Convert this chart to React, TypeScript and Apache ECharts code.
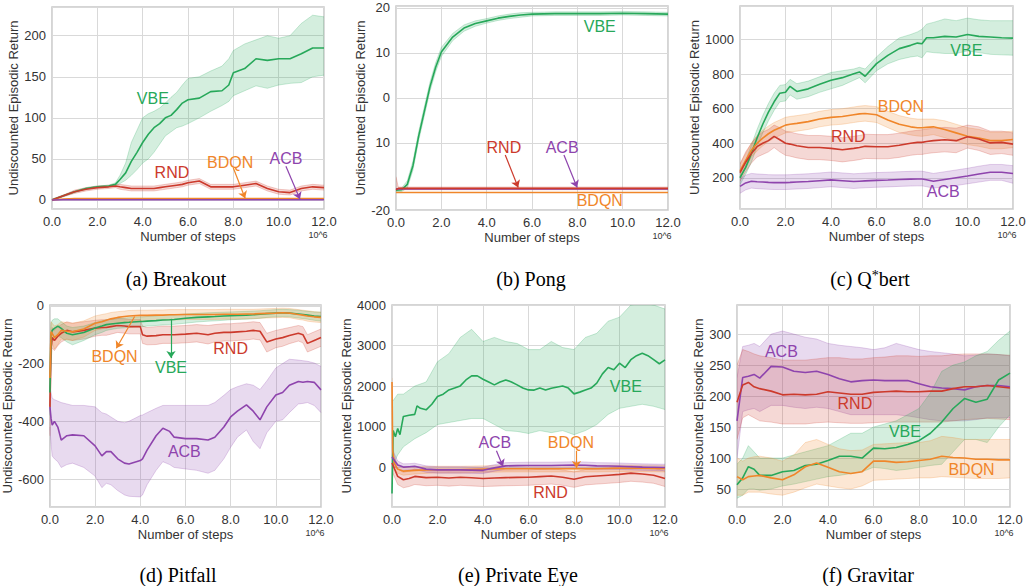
import React, { useEffect, useRef } from "react";
import * as echarts from "echarts";

type Algo = "VBE" | "RND" | "BDQN" | "ACB";
const COLORS: Record<Algo, string> = { VBE: "#27a85a", RND: "#cc3a2c", BDQN: "#f0862a", ACB: "#8e44ad" };
const FONT = '"Liberation Sans", Arial, sans-serif';
const SERIF = '"Liberation Serif", "Times New Roman", serif';

const X27 = [0, 0.25, 0.5, 0.75, 1, 1.5, 2, 2.5, 3, 3.5, 4, 4.5, 5, 5.5, 6, 6.5, 7, 7.5, 8, 8.5, 9, 9.5, 10, 10.5, 11, 11.5, 12];
const xTicks = [0, 2, 4, 6, 8, 10, 12];

// (a) Breakout
const boX = [0, 0.5, 1, 1.5, 2, 2.5, 2.8, 3, 3.25, 3.5, 3.75, 4, 4.25, 4.5, 4.75, 5, 5.25, 5.5, 5.75, 6, 6.5, 7, 7.5, 7.8, 8, 8.5, 9, 9.5, 10, 10.5, 11, 11.5, 12];
const boVbe = [0, 5, 10, 14, 16, 17, 19, 25, 33, 47, 58, 70, 80, 88, 93, 100, 103, 110, 118, 122, 124, 132, 133, 140, 155, 160, 172, 170, 172, 172, 178, 185, 185];
const boVbeHi = [1, 6, 11, 15, 17, 18, 21, 30, 45, 70, 85, 100, 105, 108, 112, 118, 125, 131, 140, 148, 150, 157, 163, 172, 182, 190, 195, 200, 197, 200, 215, 225, 223];
const boVbeLo = [-1, 4, 9, 13, 15, 16, 17, 20, 24, 30, 37, 45, 50, 58, 68, 78, 83, 88, 90, 93, 100, 108, 115, 120, 127, 133, 139, 136, 140, 142, 143, 150, 152];
const boRnd = [0, 5, 10, 13, 15, 16, 17, 16, 15, 14, 14, 14, 14, 14, 15, 16, 17, 18, 19, 21, 23, 16, 16, 16, 16, 18, 20, 14, 10, 9, 14, 16, 15];
const boRndHi = [1, 6, 12, 15, 17, 18, 19, 19, 18, 17, 17, 17, 17, 17, 18, 19, 20, 21, 22, 24, 26, 19, 19, 19, 19, 21, 23, 17, 13, 12, 17, 19, 18];
const boRndLo = [-1, 4, 8, 11, 13, 14, 15, 13, 12, 11, 11, 11, 11, 11, 12, 13, 14, 15, 16, 18, 20, 13, 13, 13, 13, 15, 17, 11, 7, 6, 11, 13, 12];
const boFlatX = [0, 0.5, 1, 12];
const boBdqn = [0, 1.2, 1.6, 1.6];
const boAcb = [0, 0.2, 0.3, 0.3];

// (b) Pong
const pgX = [0, 0.25, 0.5, 0.75, 1, 1.25, 1.5, 1.75, 2, 2.5, 3, 3.5, 4, 4.5, 5, 5.5, 6, 7, 8, 9, 10, 11, 12];
const pgVbe = [-20.5, -20.4, -19.2, -15, -8.5, -3, 2.5, 6.8, 10.2, 13.5, 15.5, 16.5, 17.1, 17.7, 18.1, 18.4, 18.6, 18.7, 18.7, 18.7, 18.8, 18.7, 18.6];
const pgVbeHi = [-20.2, -20.0, -18.4, -14, -7.5, -2, 3.5, 7.8, 11.2, 14.3, 16.2, 17.1, 17.6, 18.2, 18.6, 18.9, 19.0, 19.1, 19.1, 19.1, 19.2, 19.1, 19.0];
const pgVbeLo = [-20.8, -20.8, -20.0, -16, -9.5, -4, 1.5, 5.8, 9.2, 12.7, 14.8, 15.9, 16.6, 17.2, 17.6, 17.9, 18.2, 18.3, 18.3, 18.3, 18.4, 18.3, 18.2];
const pgFlatX = [0, 0.1, 12];
const pgRnd = [-20.4, -20.1, -20.1];
const pgRndHi = [-17.5, -19.8, -19.8];
const pgRndLo = [-20.6, -20.4, -20.4];
const pgAcb = [-20.2, -20.2, -20.2];
const pgBdqn = [-21.0, -21.0, -21.0];

// (c) Q*bert
const qbX = [0, 0.25, 0.5, 0.75, 1, 1.25, 1.5, 1.75, 2, 2.2, 2.5, 3, 3.5, 4, 4.5, 5, 5.25, 5.5, 6, 6.5, 7, 7.5, 7.8, 8, 8.2, 8.5, 9, 9.5, 10, 10.5, 11, 11.5, 12];
const qbVbe = [200, 260, 340, 430, 510, 580, 640, 690, 695, 730, 700, 715, 741, 765, 780, 803, 813, 788, 861, 909, 948, 967, 980, 976, 1011, 1011, 1019, 1015, 1030, 1019, 1015, 1011, 1009];
const qbVbeHi = [240, 300, 390, 480, 560, 630, 690, 735, 740, 770, 745, 760, 785, 810, 820, 830, 840, 830, 900, 960, 1010, 1030, 1045, 1060, 1090, 1100, 1120, 1110, 1125, 1115, 1110, 1110, 1110];
const qbVbeLo = [160, 220, 290, 380, 460, 530, 590, 640, 645, 680, 655, 670, 695, 715, 735, 765, 780, 750, 820, 860, 885, 900, 905, 895, 930, 925, 920, 920, 935, 925, 915, 912, 910];
const qbBdqn = [240, 300, 360, 400, 430, 455, 475, 490, 505, 510, 515, 525, 540, 550, 555, 565, 570, 572, 565, 535, 510, 495, 490, 490, 492, 495, 480, 460, 440, 430, 415, 415, 422];
const qbBdqnHi = [280, 340, 400, 445, 475, 500, 520, 535, 550, 555, 560, 570, 585, 595, 600, 610, 615, 618, 612, 585, 560, 545, 540, 540, 540, 540, 530, 510, 490, 480, 465, 465, 470];
const qbBdqnLo = [200, 260, 320, 355, 385, 410, 430, 445, 460, 465, 470, 480, 495, 505, 510, 520, 525, 528, 520, 490, 462, 448, 442, 440, 444, 450, 432, 412, 392, 382, 368, 368, 375];
const qbRnd = [230, 290, 340, 380, 400, 415, 440, 420, 400, 395, 385, 375, 375, 370, 362, 370, 375, 382, 380, 380, 388, 400, 405, 405, 410, 415, 420, 415, 438, 425, 402, 405, 395];
const qbRndHi = [280, 350, 400, 440, 465, 480, 505, 490, 470, 465, 455, 445, 445, 440, 432, 440, 445, 452, 450, 450, 458, 470, 475, 478, 482, 487, 492, 487, 505, 495, 470, 470, 460];
const qbRndLo = [180, 235, 285, 320, 335, 350, 375, 350, 330, 325, 315, 305, 305, 300, 292, 300, 305, 312, 310, 310, 318, 330, 335, 335, 340, 345, 350, 345, 372, 358, 335, 340, 330];
const qbAcb = [150, 170, 180, 177, 175, 173, 172, 172, 172, 173, 175, 178, 183, 188, 183, 178, 180, 182, 185, 187, 190, 192, 193, 193, 188, 180, 190, 200, 210, 222, 232, 232, 225];
const qbAcbHi = [195, 215, 225, 222, 220, 218, 217, 217, 217, 218, 220, 223, 228, 233, 228, 223, 225, 227, 230, 232, 235, 237, 238, 238, 233, 225, 235, 245, 255, 267, 277, 277, 270];
const qbAcbLo = [110, 130, 140, 137, 135, 133, 132, 132, 132, 133, 135, 138, 143, 148, 143, 138, 140, 142, 145, 147, 150, 152, 153, 153, 148, 140, 148, 155, 165, 175, 185, 185, 168];

// (d) Pitfall
const pfX = [0, 0.05, 0.1, 0.2, 0.35, 0.5, 0.75, 1, 1.5, 2, 2.3, 2.5, 2.7, 3, 3.3, 3.5, 4, 4.1, 4.3, 4.7, 5, 5.3, 5.5, 6, 6.5, 7, 7.3, 7.7, 8, 8.3, 8.7, 9, 9.3, 9.6, 10, 10.3, 10.6, 11, 11.2, 11.4, 11.7, 12];
const pfAcb = [-350, -390, -413, -400, -420, -465, -450, -447, -450, -485, -520, -505, -505, -530, -545, -548, -536, -530, -500, -450, -424, -435, -455, -460, -460, -465, -455, -420, -385, -365, -343, -365, -395, -350, -309, -300, -275, -262, -265, -262, -265, -291];
const pfAcbHi = [-280, -300, -320, -325, -330, -335, -340, -345, -345, -350, -370, -375, -385, -400, -405, -400, -380, -378, -370, -355, -345, -345, -345, -345, -345, -345, -335, -310, -290, -280, -270, -275, -290, -260, -215, -200, -185, -188, -190, -192, -198, -210];
const pfAcbLo = [-420, -480, -520, -530, -540, -560, -550, -545, -560, -590, -630, -615, -620, -640, -655, -660, -662, -655, -620, -570, -540, -550, -560, -565, -570, -580, -570, -530, -490, -455, -430, -470, -495, -440, -400, -395, -370, -340, -338, -335, -345, -370];
const pfVbe = [-300, -100, -85, -78, -70, -78, -95, -100, -92, -77, -70, -65, -63, -60, -58, -57, -54, -54, -53, -51, -49, -48, -47, -43, -40, -38, -37, -35, -34, -33, -32, -31, -29, -27, -25, -24, -25, -28, -30, -32, -35, -37];
const pfVbeHi = [-200, -60, -50, -45, -45, -55, -70, -75, -70, -58, -52, -48, -46, -44, -42, -41, -38, -38, -37, -35, -33, -32, -31, -28, -26, -24, -23, -22, -21, -20, -19, -18, -17, -15, -13, -12, -13, -15, -17, -19, -21, -22];
const pfVbeLo = [-380, -140, -125, -115, -105, -110, -125, -135, -120, -100, -92, -85, -82, -78, -76, -74, -72, -72, -70, -68, -66, -65, -64, -60, -56, -53, -52, -50, -48, -47, -46, -45, -43, -40, -38, -37, -38, -42, -44, -46, -50, -53];
const pfBdqn = [-250, -90, -95, -110, -100, -85, -88, -90, -80, -60, -55, -50, -45, -40, -37, -35, -33, -33, -33, -32, -32, -31, -31, -30, -30, -30, -30, -29, -29, -29, -28, -28, -27, -26, -25, -24, -25, -30, -32, -35, -38, -40];
const pfBdqnHi = [-150, -55, -60, -70, -65, -55, -58, -60, -52, -35, -30, -27, -23, -20, -18, -16, -15, -15, -15, -14, -14, -13, -13, -13, -13, -13, -13, -12, -12, -12, -12, -12, -11, -10, -9, -8, -9, -13, -15, -17, -20, -22];
const pfBdqnLo = [-350, -125, -130, -150, -135, -115, -118, -120, -108, -85, -80, -73, -67, -60, -56, -54, -51, -51, -51, -50, -50, -49, -49, -47, -47, -47, -47, -46, -46, -46, -45, -44, -43, -42, -41, -40, -41, -47, -49, -53, -56, -58];
const pfRnd = [-350, -150, -110, -120, -105, -95, -85, -90, -85, -77, -75, -75, -72, -68, -70, -72, -72, -100, -105, -103, -100, -100, -100, -98, -95, -100, -95, -92, -92, -90, -88, -85, -88, -125, -115, -110, -103, -95, -100, -130, -120, -110];
const pfRndHi = [-250, -110, -75, -85, -72, -65, -55, -60, -55, -50, -48, -48, -46, -44, -45, -47, -47, -70, -75, -72, -70, -70, -70, -68, -65, -68, -65, -62, -62, -60, -58, -55, -58, -95, -85, -80, -75, -68, -72, -100, -90, -80];
const pfRndLo = [-450, -190, -145, -155, -138, -125, -115, -120, -115, -105, -102, -102, -98, -92, -95, -97, -97, -130, -135, -134, -130, -130, -130, -128, -125, -132, -125, -122, -122, -120, -118, -115, -118, -160, -145, -140, -131, -122, -128, -160, -150, -140];

// (e) Private Eye
const peFineX = [0, 0.05, 0.15, 0.25, 0.35, 0.5, 0.75, 1, 1.1, 1.25, 1.5, 1.75, 2, 2.25, 2.5, 2.75, 3, 3.25, 3.5, 3.75, 4, 4.25, 4.5, 4.75, 5, 5.25, 5.5, 5.75, 6, 6.25, 6.5, 6.75, 7, 7.5, 7.75, 8, 8.25, 8.5, 8.75, 9, 9.25, 9.5, 9.75, 10, 10.25, 10.5, 10.75, 11, 11.25, 11.5, 11.75, 12];
const peVbe = [-650, 900, 750, 950, 800, 1250, 1280, 1300, 1510, 1450, 1413, 1550, 1740, 1800, 1905, 1950, 2004, 2150, 2250, 2250, 2168, 2100, 2029, 2100, 2152, 2100, 2029, 1950, 1905, 1900, 1950, 1900, 1947, 2000, 1950, 1807, 1850, 1900, 1950, 2070, 2300, 2456, 2400, 2563, 2456, 2650, 2750, 2809, 2750, 2650, 2550, 2645];
const peVbeHi = [1600, 1800, 1800, 1900, 2000, 2100, 2600, 2800, 3200, 3400, 3100, 3200, 3100, 3050, 2900, 2900, 3100, 2950, 2900, 3200, 3300, 3600, 3700, 4000, 4050, 4000, 3900];
const peVbeLo = [0, 300, 500, 600, 700, 850, 1050, 1100, 1150, 1200, 1200, 1050, 900, 880, 830, 900, 850, 900, 800, 900, 1050, 1300, 1450, 1500, 1550, 1500, 1420];
const peAcb = [250, 50, 0, 10, 20, -50, -70, -70, -70, -75, -80, -20, 30, 35, 40, 40, 40, 45, 50, 45, 30, 25, 20, 10, 0, -5, -10];
const peAcbHi = [450, 150, 80, 85, 95, 30, 10, 10, 10, 5, 0, 60, 110, 115, 120, 120, 120, 125, 130, 125, 110, 105, 100, 90, 80, 75, 70];
const peAcbLo = [50, -50, -80, -65, -55, -130, -150, -150, -150, -155, -160, -100, -50, -45, -40, -40, -40, -35, -30, -35, -50, -55, -60, -70, -80, -85, -90];
const peRnd = [100, -230, -312, -280, -230, -260, -250, -270, -250, -265, -280, -270, -260, -255, -250, -235, -220, -250, -300, -240, -220, -200, -180, -150, -170, -200, -280];
const peRndHi = [280, -50, -130, -100, -50, -80, -70, -90, -70, -85, -100, -90, -80, -75, -70, -55, -40, -70, -120, -60, -40, -20, 0, 30, 10, -20, -100];
const peRndLo = [-100, -430, -510, -480, -430, -460, -450, -470, -450, -465, -480, -470, -460, -455, -450, -435, -420, -450, -500, -440, -420, -400, -380, -350, -370, -400, -480];
const peSpikeX = [0, 0.03, 0.1, 0.25, 0.5, 1, 2, 3, 4, 5, 6, 7, 8, 9, 10, 11, 12];
const peBdqn = [2100, 400, 100, -50, -100, -80, -60, -60, -50, -40, -40, -40, -40, -40, -30, -30, -40];
const peBdqnHi = [2200, 600, 250, 60, 0, 10, 20, 20, 30, 40, 40, 40, 40, 40, 50, 50, 40];
const peBdqnLo = [1500, 100, -50, -150, -200, -170, -140, -140, -130, -120, -120, -120, -120, -120, -110, -110, -120];

// (f) Gravitar
const gvAcb = [160, 230, 232, 235, 229, 248, 247, 240, 238, 240, 235, 228, 223, 225, 226, 225, 225, 225, 220, 215, 213, 212, 210, 215, 217, 217, 215];
const gvAcbHi = [230, 280, 282, 285, 280, 300, 305, 300, 295, 292, 285, 282, 280, 278, 275, 278, 285, 280, 275, 272, 270, 268, 265, 266, 268, 267, 265];
const gvAcbLo = [100, 175, 178, 180, 175, 185, 185, 182, 180, 182, 180, 175, 170, 170, 170, 170, 170, 168, 165, 162, 160, 160, 160, 162, 165, 165, 165];
const gvRnd = [190, 218, 222, 215, 212, 208, 202, 203, 202, 203, 207, 205, 203, 203, 206, 207, 208, 207, 207, 208, 208, 212, 215, 215, 217, 215, 213];
const gvRndHi = [250, 275, 272, 268, 265, 262, 258, 258, 258, 260, 262, 262, 260, 260, 262, 263, 265, 265, 264, 265, 265, 267, 268, 268, 268, 267, 266];
const gvRndLo = [130, 165, 170, 165, 160, 158, 155, 155, 155, 157, 158, 157, 156, 156, 157, 158, 158, 158, 158, 158, 158, 160, 162, 163, 164, 163, 162];
const gvVbe = [57, 68, 86, 82, 72, 72, 78, 80, 88, 90, 96, 103, 103, 100, 116, 115, 117, 122, 128, 140, 158, 180, 196, 190, 195, 226, 237];
const gvVbeHi = [90, 100, 120, 110, 100, 100, 100, 105, 110, 115, 120, 130, 140, 140, 150, 155, 160, 170, 180, 205, 240, 250, 255, 265, 272, 290, 305];
const gvVbeLo = [35, 40, 50, 50, 48, 50, 55, 58, 62, 66, 70, 72, 75, 78, 85, 83, 80, 82, 85, 88, 90, 110, 130, 130, 125, 150, 170];
const gvBdqn = [70, 65, 70, 71, 72, 68, 65, 73, 86, 92, 85, 78, 75, 78, 95, 95, 93, 94, 96, 98, 103, 101, 100, 98, 98, 97, 97];
const gvBdqnHi = [100, 95, 100, 102, 103, 100, 95, 105, 125, 130, 122, 115, 112, 113, 122, 123, 124, 125, 125, 128, 135, 133, 130, 130, 130, 130, 130];
const gvBdqnLo = [40, 40, 45, 45, 45, 42, 40, 45, 52, 58, 55, 52, 50, 55, 64, 65, 66, 67, 68, 68, 70, 69, 68, 67, 67, 67, 68];

// annotation positions (data coordinates): [algo, x, y] and arrows [algo, x1, y1, x2, y2]
const boNotes: [Algo, number, number][] = [["VBE", 4.45, 123], ["RND", 5.29, 33], ["BDQN", 7.86, 46], ["ACB", 10.32, 50]];
const boArrows: [Algo, number, number, number, number][] = [["BDQN", 8.0, 39, 8.52, 2], ["ACB", 10.32, 41, 10.94, 1]];
const pgNotes: [Algo, number, number][] = [["VBE", 8.99, 15.9], ["RND", 4.76, -11.1], ["ACB", 7.33, -11.1], ["BDQN", 8.99, -22.7]];
const pgArrows: [Algo, number, number, number, number][] = [["RND", 4.82, -12.7, 5.39, -19.9], ["ACB", 7.41, -12.7, 7.99, -19.9]];
const qbNotes: [Algo, number, number][] = [["VBE", 9.95, 938], ["BDQN", 7.07, 614], ["RND", 4.76, 441], ["ACB", 8.93, 119]];
const pfNotes: [Algo, number, number][] = [["BDQN", 2.86, -176], ["VBE", 5.36, -214], ["RND", 8.0, -147], ["ACB", 5.95, -505]];
const pfArrows: [Algo, number, number, number, number][] = [["BDQN", 3.75, -37, 2.94, -147], ["VBE", 5.36, -45, 5.36, -181]];
const peNotes: [Algo, number, number][] = [["VBE", 10.28, 1988], ["ACB", 4.52, 608], ["BDQN", 7.86, 608], ["RND", 6.97, -616]];
const peArrows: [Algo, number, number, number, number][] = [["ACB", 4.59, 402, 4.88, 16], ["BDQN", 8.11, 402, 8.11, -25]];
const gvNotes: [Algo, number, number][] = [["ACB", 1.95, 272], ["RND", 5.18, 188], ["VBE", 7.38, 143], ["BDQN", 10.31, 81]];

type Line = { algo: Algo; x: number[]; y: number[] };
type Band = { algo: Algo; x: number[]; lo: number[]; hi: number[] };
type Panel = {
  grid: { left: number; top: number; width: number; height: number };
  yMin: number; yMax: number; yStep: number; yName: string; yGap: number;
  yLabel?: (v: number) => string;
  bands: Band[]; lines: Line[];
  notes: [Algo, number, number][]; arrows: [Algo, number, number, number, number][];
  caption: string; capX: number; capY: number;
};

const panels: Panel[] = [
  {
    grid: { left: 52, top: 7, width: 272, height: 202 }, yMin: -11, yMax: 235, yStep: 50,
    yName: "Undiscounted Episodic Return", yGap: 31,
    bands: [
      { algo: "VBE", x: boX, lo: boVbeLo, hi: boVbeHi },
      { algo: "RND", x: boX, lo: boRndLo, hi: boRndHi },
    ],
    lines: [
      { algo: "VBE", x: boX, y: boVbe },
      { algo: "RND", x: boX, y: boRnd },
      { algo: "BDQN", x: boFlatX, y: boBdqn },
      { algo: "ACB", x: boFlatX, y: boAcb },
    ],
    notes: boNotes, arrows: boArrows, caption: "(a) Breakout", capX: 176, capY: 279,
  },
  {
    grid: { left: 396, top: 6, width: 272, height: 204 }, yMin: -24.9, yMax: 20.4, yStep: 10,
    yName: "Undiscbunted Episodic Return", yGap: 28,
    yLabel: (v: number) => {
      if (Math.abs(v - -24.9) < 1e-6) return "-20";
      if (Math.abs(v - -10) < 1e-6) return "10";
      if (Math.abs(v - -20) < 1e-6) return "";
      return Math.abs(v / 10 - Math.round(v / 10)) < 1e-6 ? String(Math.round(v)) : "";
    },
    bands: [
      { algo: "VBE", x: pgX, lo: pgVbeLo, hi: pgVbeHi },
      { algo: "RND", x: pgFlatX, lo: pgRndLo, hi: pgRndHi },
    ],
    lines: [
      { algo: "VBE", x: pgX, y: pgVbe },
      { algo: "BDQN", x: pgFlatX, y: pgBdqn },
      { algo: "ACB", x: pgFlatX, y: pgAcb },
      { algo: "RND", x: pgFlatX, y: pgRnd },
    ],
    notes: pgNotes, arrows: pgArrows, caption: "(b) Pong", capX: 531, capY: 279,
  },
  {
    grid: { left: 740, top: 6, width: 273, height: 203 }, yMin: 19, yMax: 1195, yStep: 200,
    yName: "Undiscounted Episodic Return", yGap: 27,
    bands: [
      { algo: "VBE", x: qbX, lo: qbVbeLo, hi: qbVbeHi },
      { algo: "BDQN", x: qbX, lo: qbBdqnLo, hi: qbBdqnHi },
      { algo: "RND", x: qbX, lo: qbRndLo, hi: qbRndHi },
      { algo: "ACB", x: qbX, lo: qbAcbLo, hi: qbAcbHi },
    ],
    lines: [
      { algo: "VBE", x: qbX, y: qbVbe },
      { algo: "BDQN", x: qbX, y: qbBdqn },
      { algo: "RND", x: qbX, y: qbRnd },
      { algo: "ACB", x: qbX, y: qbAcb },
    ],
    notes: qbNotes, arrows: [], caption: "(c) Q{sup|*}bert", capX: 870, capY: 279,
  },
  {
    grid: { left: 48, top: 305, width: 273, height: 202 }, yMin: -697, yMax: 3, yStep: 200,
    yName: "Undiscounted Episodic Return", yGap: 30,
    bands: [
      { algo: "ACB", x: pfX, lo: pfAcbLo, hi: pfAcbHi },
      { algo: "RND", x: pfX, lo: pfRndLo, hi: pfRndHi },
      { algo: "VBE", x: pfX, lo: pfVbeLo, hi: pfVbeHi },
      { algo: "BDQN", x: pfX, lo: pfBdqnLo, hi: pfBdqnHi },
    ],
    lines: [
      { algo: "ACB", x: pfX, y: pfAcb },
      { algo: "RND", x: pfX, y: pfRnd },
      { algo: "VBE", x: pfX, y: pfVbe },
      { algo: "BDQN", x: pfX, y: pfBdqn },
    ],
    notes: pfNotes, arrows: pfArrows, caption: "(d) Pitfall", capX: 178, capY: 575,
  },
  {
    grid: { left: 392, top: 305, width: 273, height: 202 }, yMin: -985, yMax: 4000, yStep: 1000,
    yName: "Undiscounted Episodic Return", yGap: 28,
    bands: [
      { algo: "VBE", x: X27, lo: peVbeLo, hi: peVbeHi },
      { algo: "RND", x: X27, lo: peRndLo, hi: peRndHi },
      { algo: "BDQN", x: peSpikeX, lo: peBdqnLo, hi: peBdqnHi },
      { algo: "ACB", x: X27, lo: peAcbLo, hi: peAcbHi },
    ],
    lines: [
      { algo: "VBE", x: peFineX, y: peVbe },
      { algo: "RND", x: X27, y: peRnd },
      { algo: "BDQN", x: peSpikeX, y: peBdqn },
      { algo: "ACB", x: X27, y: peAcb },
    ],
    notes: peNotes, arrows: peArrows, caption: "(e) Private Eye", capX: 518, capY: 575,
  },
  {
    grid: { left: 737, top: 305, width: 273, height: 202 }, yMin: 21, yMax: 347, yStep: 50,
    yName: "Undiscounted Episodic Return", yGap: 28,
    bands: [
      { algo: "ACB", x: X27, lo: gvAcbLo, hi: gvAcbHi },
      { algo: "RND", x: X27, lo: gvRndLo, hi: gvRndHi },
      { algo: "VBE", x: X27, lo: gvVbeLo, hi: gvVbeHi },
      { algo: "BDQN", x: X27, lo: gvBdqnLo, hi: gvBdqnHi },
    ],
    lines: [
      { algo: "ACB", x: X27, y: gvAcb },
      { algo: "RND", x: X27, y: gvRnd },
      { algo: "VBE", x: X27, y: gvVbe },
      { algo: "BDQN", x: X27, y: gvBdqn },
    ],
    notes: gvNotes, arrows: [], caption: "(f) Gravitar", capX: 868, capY: 575,
  },
];

function bandSeries(b: Band, i: number) {
  const c = COLORS[b.algo];
  return {
    type: "custom", xAxisIndex: i, yAxisIndex: i, silent: true, clip: true, z: 1,
    data: [[b.x[0], b.lo[0]]],
    encode: { x: 0, y: 1 },
    renderItem: (_params: any, api: any) => {
      const top = b.x.map((x, j) => api.coord([x, b.hi[j]]));
      const bottom = b.x.map((x, j) => api.coord([x, b.lo[j]]));
      const poly = top.concat(bottom.slice().reverse());
      return {
        type: "group",
        children: [
          { type: "polygon", shape: { points: poly }, style: { fill: c, opacity: 0.2 } },
          { type: "polyline", shape: { points: top }, style: { stroke: c, fill: "none", lineWidth: 0.8, opacity: 0.3 } },
          { type: "polyline", shape: { points: bottom }, style: { stroke: c, fill: "none", lineWidth: 0.8, opacity: 0.3 } },
        ],
      };
    },
  };
}

function buildOption() {
  const grids: any[] = [];
  const xAxes: any[] = [];
  const yAxes: any[] = [];
  const series: any[] = [];
  const graphics: any[] = [];
  const labelColor = "#333333";

  panels.forEach((p, i) => {
    grids.push({
      ...p.grid, show: true, borderColor: "#c8c8c8", borderWidth: 1.5, backgroundColor: "#ffffff", containLabel: false,
    });
    xAxes.push({
      type: "value", gridIndex: i, min: xTicks[0], max: xTicks[xTicks.length - 1], interval: 2,
      axisLine: { show: false }, axisTick: { show: false },
      splitLine: { show: true, lineStyle: { color: "#d9d9d9", width: 1 } },
      axisLabel: { formatter: (v: number) => v.toFixed(1), color: labelColor, fontSize: 13, fontFamily: FONT, margin: 6 },
      name: "Number of steps", nameLocation: "middle", nameGap: 21,
      nameTextStyle: { color: labelColor, fontSize: 13, fontFamily: FONT },
    });
    const step = p.yStep;
    yAxes.push({
      type: "value", gridIndex: i, min: p.yMin, max: p.yMax, minInterval: step, maxInterval: step,
      axisLine: { show: false }, axisTick: { show: false },
      splitLine: { show: true, lineStyle: { color: "#d9d9d9", width: 1 } },
      axisLabel: {
        color: labelColor, fontSize: 13, fontFamily: FONT, margin: 6,
        formatter: p.yLabel || ((v: number) => (Math.abs(v / step - Math.round(v / step)) < 1e-6 ? String(Math.round(v)) : "")),
      },
      name: p.yName, nameLocation: "middle", nameGap: p.yGap,
      nameTextStyle: { color: labelColor, fontSize: 13, fontFamily: FONT },
    });

    p.bands.forEach((b) => series.push(bandSeries(b, i)));

    p.lines.forEach((l) => {
      const c = COLORS[l.algo];
      const notes = p.notes.filter((n) => n[0] === l.algo);
      const arrows = p.arrows.filter((a) => a[0] === l.algo);
      series.push({
        type: "line", xAxisIndex: i, yAxisIndex: i, name: l.algo,
        data: l.x.map((x, j) => [x, l.y[j]]), symbol: "none", z: 3,
        lineStyle: { color: c, width: 1.6 },
        markPoint: notes.length ? {
          silent: true, symbol: "circle", symbolSize: 1, itemStyle: { color: "rgba(0,0,0,0)" },
          label: { show: true, position: "inside", formatter: l.algo, color: c, fontSize: 16, fontFamily: FONT },
          data: notes.map((n) => ({ coord: [n[1], n[2]] })),
        } : undefined,
        markLine: arrows.length ? {
          silent: true, symbol: ["none", "arrow"], symbolSize: 7,
          lineStyle: { color: c, width: 1.2, type: "solid" }, label: { show: false },
          data: arrows.map((a) => [{ coord: [a[1], a[2]] }, { coord: [a[3], a[4]] }]),
        } : undefined,
      });
    });

    graphics.push({
      type: "text", x: p.grid.left + p.grid.width - 6, y: p.grid.top + p.grid.height + 26,
      style: { text: "10^6", fill: labelColor, font: `9px ${FONT}`, textAlign: "center", textVerticalAlign: "middle", align: "center", verticalAlign: "middle" },
    });
    graphics.push({
      type: "text", x: p.capX, y: p.capY,
      style: {
        text: p.caption, fill: "#000000", font: `20px ${SERIF}`,
        textAlign: "center", textVerticalAlign: "middle", align: "center", verticalAlign: "middle",
        rich: { sup: { fontSize: 14, fontFamily: SERIF, verticalAlign: "top", padding: [0, 0, 8, 0], fill: "#000000" } },
      },
    });
  });

  return {
    animation: false,
    backgroundColor: "#ffffff",
    grid: grids,
    xAxis: xAxes,
    yAxis: yAxes,
    series,
    graphic: graphics,
  };
}

export default function App() {
  const ref = useRef<HTMLDivElement>(null);
  useEffect(() => {
    document.body.style.margin = "0";
    if (!ref.current) return;
    const chart = echarts.init(ref.current, null, { renderer: "svg" });
    chart.setOption(buildOption() as any);
    return () => chart.dispose();
  }, []);
  return <div ref={ref} style={{ position: "absolute", left: 0, top: 0, width: 1029, height: 586, background: "#fff" }} />;
}
